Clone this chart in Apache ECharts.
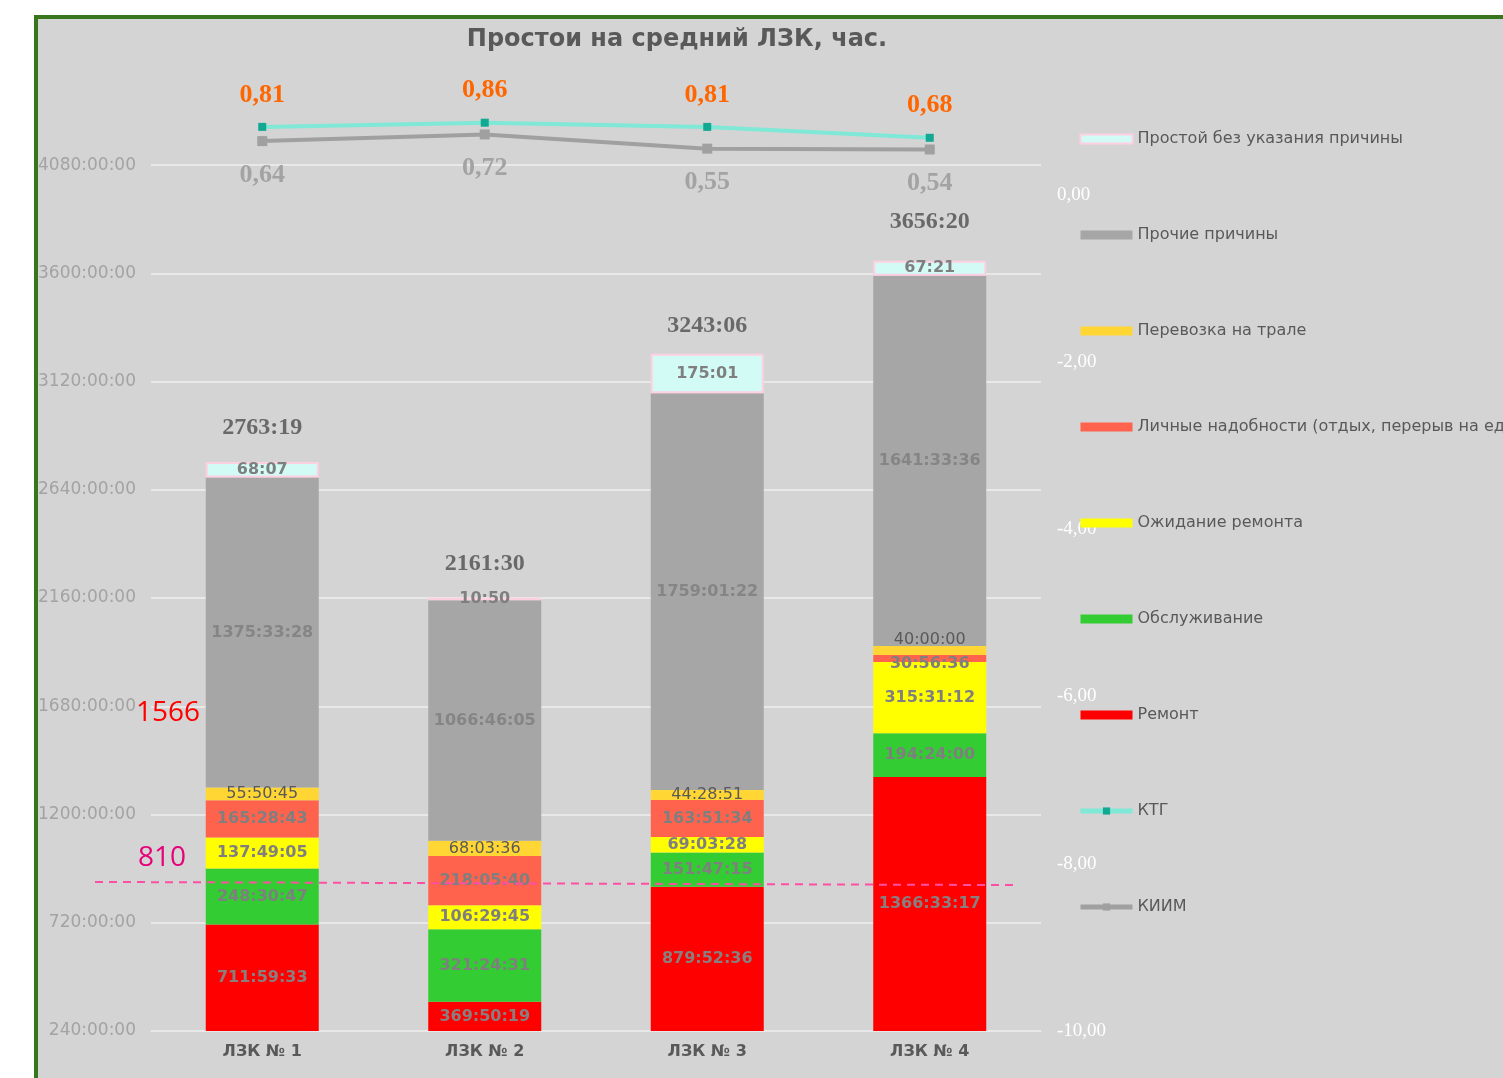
<!DOCTYPE html>
<html>
<head>
<meta charset="utf-8">
<title>Простои на средний ЛЗК</title>
<script src="https://cdn.jsdelivr.net/npm/echarts@6/dist/echarts.min.js"></script>
<style>
  html, body { margin: 0; padding: 0; background: #fff; overflow: hidden; }
  #frame {
    position: absolute; left: 34px; top: 15px;
    width: 1600px; height: 1200px;
    border: 4px solid #38761d; background: #d4d4d4;
  }
  #chart { position: absolute; left: 0; top: 0; width: 1503px; height: 1078px; }
</style>
</head>
<body>
<div id="frame"></div>
<div id="chart"></div>
<script>
// categories
const categories = ['ЛЗК № 1', 'ЛЗК № 2', 'ЛЗК № 3', 'ЛЗК № 4'];

// downtime per reason, h:mm:ss (as printed on the bars)
const remont      = ['711:59:33', '369:50:19', '879:52:36', '1366:33:17'];
const obsluzh     = ['248:30:47', '321:24:31', '151:47:15', '194:24:00'];
const ozhidanie   = ['137:49:05', '106:29:45', '69:03:28', '315:31:12'];
const lichnye     = ['165:28:43', '218:05:40', '163:51:34', '30:56:36'];
const perevozka   = ['55:50:45', '68:03:36', '44:28:51', '40:00:00'];
const prochie     = ['1375:33:28', '1066:46:05', '1759:01:22', '1641:33:36'];
const bezPrichiny = ['68:07', '10:50', '175:01', '67:21'];
const totals      = ['2763:19', '2161:30', '3243:06', '3656:20'];

// ratios (right axis)
const ktg  = [0.81, 0.86, 0.81, 0.68];
const kiim = [0.64, 0.72, 0.55, 0.54];

const SANS = "'DejaVu Sans', Verdana, sans-serif";
const SERIF = "'Liberation Serif', 'Times New Roman', serif";

function toHours(s) {
  const p = s.split(':').map(Number);
  return p[0] + (p[1] || 0) / 60 + (p[2] || 0) / 3600;
}

function barSeries(name, strs, color, labelColor) {
  return {
    name: name,
    type: 'bar',
    stack: 'total',
    barWidth: 113,
    data: strs.map(toHours),
    itemStyle: { color: color },
    label: {
      show: true,
      position: 'inside',
      color: labelColor,
      fontFamily: SANS,
      fontSize: 16,
      fontWeight: 'bold',
      formatter: p => strs[p.dataIndex]
    }
  };
}

const chart = echarts.init(document.getElementById('chart'));

const series = [
  barSeries('Ремонт', remont, '#ff0000', '#8a7f7f'),
  barSeries('Обслуживание', obsluzh, '#33cc33', '#7f7f7f'),
  barSeries('Ожидание ремонта', ozhidanie, '#ffff00', '#7f7f7f'),
  barSeries('Личные надобности (отдых, перерыв на еду)', lichnye, '#ff634d', '#7f7f7f'),
  barSeries('Перевозка на трале', perevozka, '#ffd633', '#595959'),
  barSeries('Прочие причины', prochie, '#a6a6a6', '#858585'),
  barSeries('Простой без указания причины', bezPrichiny, '#d2fbf6', '#7f7f7f')
];
// regular weight for transport labels
series[4].label.fontWeight = 'normal';
series[6].itemStyle.borderColor = '#ffcfe2';
series[6].itemStyle.borderWidth = 2;
// bar 4: small segments, labels moved like in the source
series[4].data[3] = { value: series[4].data[3], label: { offset: [0, -11] } };
series[3].data[3] = { value: series[3].data[3], label: { offset: [0, 5] } };

// totals above bars
const totalOffsets = [0, 0, 6, -5];
series.push({
  name: 'Итого',
  type: 'scatter',
  symbolSize: 0,
  data: totals.map((t, i) => ({ value: toHours(t), label: { offset: [0, totalOffsets[i]] } })),
  label: {
    show: true,
    position: 'top',
    distance: 22,
    color: '#4d4d4d',
    fontFamily: SERIF,
    fontSize: 24,
    fontWeight: 'bold',
    formatter: p => totals[p.dataIndex]
  },
  z: 5
});

series.push({
  name: 'КТГ',
  type: 'line',
  yAxisIndex: 1,
  data: ktg,
  symbol: 'rect',
  symbolSize: 8,
  lineStyle: { color: '#7fe8d6', width: 4 },
  itemStyle: { color: '#12a892' },
  label: {
    show: true,
    position: 'top',
    distance: 15,
    color: '#ff6600',
    fontFamily: SERIF,
    fontSize: 26,
    fontWeight: 'bold',
    formatter: p => p.value.toFixed(2).replace('.', ',')
  },
  z: 6
});
series.push({
  name: 'КИИМ',
  type: 'line',
  yAxisIndex: 1,
  data: kiim,
  symbol: 'rect',
  symbolSize: 10,
  lineStyle: { color: '#a0a0a0', width: 4 },
  itemStyle: { color: '#a0a0a0' },
  label: {
    show: true,
    position: 'bottom',
    distance: 16,
    color: '#a3a3a3',
    fontFamily: SERIF,
    fontSize: 26,
    fontWeight: 'bold',
    formatter: p => p.value.toFixed(2).replace('.', ',')
  },
  z: 5
});

const gridColors = [];
for (let i = 0; i < 9; i++) gridColors.push('#e8e8e8');
gridColors.push('rgba(0,0,0,0)');

const legendNames = [
  'Простой без указания причины',
  'Прочие причины',
  'Перевозка на трале',
  'Личные надобности (отдых, перерыв на еду)',
  'Ожидание ремонта',
  'Обслуживание',
  'Ремонт'
];

chart.setOption({
  backgroundColor: 'transparent',
  animation: false,
  grid: { left: 151, right: 462, top: 111, bottom: 47 },
  legend: {
    orient: 'vertical',
    left: 1073,
    top: 124,
    itemWidth: 52,
    itemHeight: 9,
    itemGap: 76,
    textStyle: { color: '#595959', fontFamily: SANS, fontSize: 16, lineHeight: 20 },
    data: legendNames.map(n => ({ name: n, icon: 'rect' })).concat([
      { name: 'КТГ', lineStyle: { width: 5, color: '#7fe8d6' }, itemStyle: { color: '#12a892' } },
      { name: 'КИИМ', lineStyle: { width: 5, color: '#a0a0a0' }, itemStyle: { color: '#a0a0a0' } }
    ])
  },
  xAxis: {
    type: 'category',
    data: categories,
    axisLine: { onZero: false, lineStyle: { color: '#e8e8e8' } },
    axisTick: { show: false },
    axisLabel: { color: '#595959', fontFamily: SANS, fontSize: 16, fontWeight: 'bold', margin: 13 }
  },
  yAxis: [
    {
      type: 'value',
      min: 240,
      max: 4320,
      interval: 480,
      axisLine: { show: false },
      axisTick: { show: false },
      splitLine: { lineStyle: { color: gridColors, width: 2 } },
      axisLabel: {
        color: '#a3a3a3', fontFamily: SANS, fontSize: 17, margin: 15,
        showMaxLabel: false,
        formatter: v => v + ':00:00'
      }
    },
    {
      type: 'value',
      position: 'right',
      min: -10,
      max: 1,
      interval: 2,
      axisLine: { show: false },
      axisTick: { show: false },
      splitLine: { show: false },
      axisLabel: {
        color: '#ffffff', fontFamily: SERIF, fontSize: 19, margin: 16,
        showMaxLabel: false,
        formatter: v => v.toFixed(2).replace('.', ',')
      }
    }
  ],
  series: series
});

// annotations: title, reference line and its captions
const yA = chart.convertToPixel({ yAxisIndex: 0 }, 901);
const yB = chart.convertToPixel({ yAxisIndex: 0 }, 887);
chart.setOption({
  graphic: [
    {
      type: 'text', x: 677, y: 40, z: 10,
      style: {
        text: 'Простои на средний ЛЗК, час.',
        fill: '#595959', font: "bold 24px 'DejaVu Sans'",
        textAlign: 'center', textVerticalAlign: 'middle'
      }
    },
    {
      type: 'line', z: 10,
      shape: { x1: 95, y1: yA, x2: 1018, y2: yB },
      style: { stroke: '#ff4fa3', lineWidth: 2, lineDash: [8, 6] }
    },
    {
      type: 'text', x: 168, y: 713, z: 10,
      style: { text: '1566', fill: '#ff0000', font: "28px 'Open Sans'", textAlign: 'center', textVerticalAlign: 'middle' }
    },
    {
      type: 'text', x: 162, y: 858, z: 10,
      style: { text: '810', fill: '#e6007a', font: "28px 'Open Sans'", textAlign: 'center', textVerticalAlign: 'middle' }
    }
  ]
});
</script>
</body>
</html>
